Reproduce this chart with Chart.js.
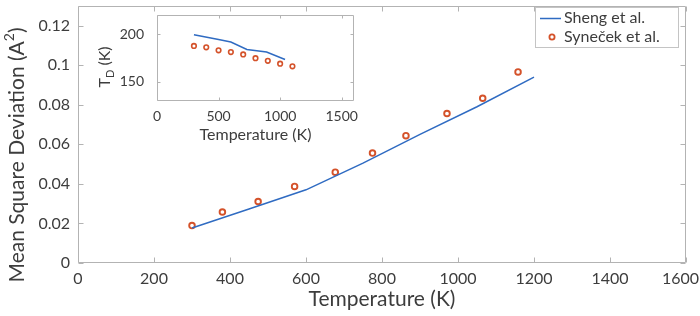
<!DOCTYPE html>
<html>
<head>
<meta charset="utf-8">
<script src="https://cdn.jsdelivr.net/npm/chart.js@4.4.1/dist/chart.umd.min.js"></script>
<style>
  body { margin: 0; background: #fff; overflow: hidden; }
  #wrap { position: relative; width: 700px; height: 316px; }
  #mainChart { position: absolute; left: 0; top: 0; }
  #insetChart { position: absolute; left: 85px; top: 5px; }
</style>
</head>
<body>
<div id="wrap">
  <canvas id="mainChart" width="700" height="316"></canvas>
  <canvas id="insetChart" width="279" height="140"></canvas>
</div>
<script>
// main plot data
const mainTemps = [300, 380, 474, 570, 677, 775, 863, 971, 1065, 1158];
const mainMsd = [0.0189, 0.0258, 0.0311, 0.0387, 0.0459, 0.0556, 0.0644, 0.0756, 0.0833, 0.0966];
const shengTemps = [300, 450, 600, 750, 900, 1050, 1200];
const shengMsd = [0.0177, 0.0273, 0.0370, 0.0505, 0.0650, 0.0790, 0.0940];
const mainXTicks = [0, 200, 400, 600, 800, 1000, 1200, 1400, 1600];
const mainYTicks = [0, 0.02, 0.04, 0.06, 0.08, 0.1, 0.12];

// inset data (Debye temperature)
const insetShengT = [300, 500, 600, 730, 890, 1040];
const insetShengTd = [199.3, 194.3, 191.8, 184, 181.2, 173.4];
const insetSynT = [300, 400, 500, 600, 700, 800, 900, 1000, 1100];
const insetSynTd = [187.6, 186.2, 183, 181.2, 178.7, 174.8, 172, 169.1, 166.3];
const insetXTicks = [0, 500, 1000, 1500];
const insetYTicks = [150, 200];

const BLUE = '#2f6bc2';
const ORANGE = '#d4522a';
const AXIS_GRAY = '#b3b3b3';
const TEXT = '#3d3d3d';
const FONT = 'Lato';

const toPoints = (xs, ys) => xs.map((x, i) => ({ x: x, y: ys[i] }));

// draws text with a sub/superscript piece, rotated for a y-axis title
function drawRotatedLabel(ctx, cx, cy, parts) {
  ctx.save();
  ctx.translate(cx, cy);
  ctx.rotate(-Math.PI / 2);
  ctx.fillStyle = TEXT;
  ctx.textBaseline = 'middle';
  ctx.textAlign = 'left';
  let total = 0;
  parts.forEach(p => {
    ctx.font = p.size + 'px ' + FONT;
    total += ctx.measureText(p.text).width;
  });
  let x = -total / 2;
  parts.forEach(p => {
    ctx.font = p.size + 'px ' + FONT;
    ctx.fillText(p.text, x, p.dy || 0);
    x += ctx.measureText(p.text).width;
  });
  ctx.restore();
}

const boxTicks = {
  id: 'boxTicks',
  beforeDraw(chart, args, opts) {
    if (!opts.fill) return;
    const { ctx, chartArea: a } = chart;
    ctx.save();
    ctx.fillStyle = '#fff';
    ctx.fillRect(a.left, a.top, a.right - a.left, a.bottom - a.top);
    ctx.restore();
  },
  afterDatasetsDraw(chart, args, opts) {
    const { ctx, chartArea: a, scales } = chart;
    const len = opts.len || 5;
    ctx.save();
    ctx.strokeStyle = AXIS_GRAY;
    ctx.lineWidth = 1;
    const L = Math.round(a.left) + 0.5, R = Math.round(a.right) - 0.5;
    const T = Math.round(a.top) + 0.5, B = Math.round(a.bottom) - 0.5;
    ctx.beginPath();
    ctx.rect(L, T, R - L, B - T);
    scales.x.ticks.forEach(t => {
      const px = Math.round(scales.x.getPixelForValue(t.value)) + 0.5;
      ctx.moveTo(px, B); ctx.lineTo(px, B - len);
      ctx.moveTo(px, T); ctx.lineTo(px, T + len);
    });
    scales.y.ticks.forEach(t => {
      const py = Math.round(scales.y.getPixelForValue(t.value)) + 0.5;
      ctx.moveTo(L, py); ctx.lineTo(L + len, py);
      ctx.moveTo(R, py); ctx.lineTo(R - len, py);
    });
    ctx.stroke();
    ctx.restore();
  },
  afterDraw(chart, args, opts) {
    if (opts.yTitle) opts.yTitle(chart.ctx);
    if (opts.legend) opts.legend(chart.ctx);
    if (opts.lastLabel) opts.lastLabel(chart);
  }
};

function fixedScale(size, ticksList) {
  return {
    afterBuildTicks: s => { s.ticks = ticksList.map(v => ({ value: v })); },
    afterFit: s => {
      if (s.isHorizontal()) s.height = size; else s.width = size;
      s.paddingLeft = 0; s.paddingRight = 0; s.paddingTop = 0; s.paddingBottom = 0;
    }
  };
}

function drawLegend(ctx) {
  ctx.save();
  ctx.fillStyle = '#fff';
  ctx.fillRect(535.5, 7.5, 143, 40);
  ctx.strokeStyle = '#c4c4c4';
  ctx.lineWidth = 1;
  ctx.strokeRect(535.5, 7.5, 143, 40);
  ctx.strokeStyle = BLUE;
  ctx.lineWidth = 1.5;
  ctx.beginPath();
  ctx.moveTo(540, 18.5); ctx.lineTo(561, 18.5);
  ctx.stroke();
  ctx.strokeStyle = ORANGE;
  ctx.lineWidth = 1.8;
  ctx.beginPath();
  ctx.arc(552, 37, 2.6, 0, Math.PI * 2);
  ctx.stroke();
  ctx.fillStyle = TEXT;
  ctx.font = '16px ' + FONT;
  ctx.textBaseline = 'middle';
  ctx.fillText('Sheng et al.', 564, 18);
  ctx.fillText('Syneček et al.', 564, 37);
  ctx.restore();
}

// the last x label would run off the canvas edge, so it is drawn here, kept inside
function drawLastXLabel(chart) {
  const { ctx, scales: { x }, chartArea } = chart;
  const v = mainXTicks[mainXTicks.length - 1];
  ctx.save();
  ctx.font = '16px ' + FONT;
  ctx.fillStyle = TEXT;
  ctx.textBaseline = 'middle';
  ctx.textAlign = 'right';
  const w = ctx.measureText(String(v)).width;
  const right = Math.min(x.getPixelForValue(v) + w / 2, 699);
  ctx.fillText(String(v), right, chartArea.bottom + 6 + 9.6);
  ctx.restore();
}

new Chart(document.getElementById('mainChart'), {
  type: 'scatter',
  data: {
    datasets: [{
      type: 'line',
      label: 'Sheng et al.',
      data: toPoints(shengTemps, shengMsd),
      borderColor: BLUE,
      borderWidth: 1.5,
      pointRadius: 0,
      fill: false,
      tension: 0
    }, {
      type: 'scatter',
      label: 'Syneček et al.',
      data: toPoints(mainTemps, mainMsd),
      pointRadius: 2.8,
      borderWidth: 1.9,
      borderColor: ORANGE,
      backgroundColor: 'rgba(0,0,0,0)'
    }]
  },
  options: {
    responsive: false,
    animation: false,
    layout: { padding: { top: 1, right: 14, left: 0, bottom: 0 } },
    plugins: {
      legend: { display: false },
      tooltip: { enabled: false },
      boxTicks: {
        len: 5,
        yTitle: ctx => drawRotatedLabel(ctx, 17, 155, [
          { text: 'Mean Square Deviation (A', size: 21 },
          { text: '2', size: 14, dy: -8 },
          { text: ')', size: 21 }
        ]),
        legend: drawLegend,
        lastLabel: drawLastXLabel
      }
    },
    scales: {
      x: Object.assign({
        type: 'linear', min: 0, max: 1600,
        grid: { display: false, drawTicks: false },
        border: { display: false },
        ticks: { color: TEXT, font: { family: FONT, size: 16 }, padding: 6, maxRotation: 0,
          callback: v => (v === mainXTicks[mainXTicks.length - 1] ? '' : String(v)) },
        title: { display: true, text: 'Temperature (K)', color: TEXT,
          font: { family: FONT, size: 21 }, padding: { top: 0, bottom: 4 } }
      }, fixedScale(53, mainXTicks)),
      y: Object.assign({
        type: 'linear', min: 0, max: 0.13,
        grid: { display: false, drawTicks: false },
        border: { display: false },
        ticks: { color: TEXT, font: { family: FONT, size: 16 }, padding: 8,
          callback: v => String(v) }
      }, fixedScale(78, mainYTicks))
    }
  },
  plugins: [boxTicks]
});

new Chart(document.getElementById('insetChart'), {
  type: 'scatter',
  data: {
    datasets: [{
      type: 'line',
      label: 'Sheng et al.',
      data: toPoints(insetShengT, insetShengTd),
      borderColor: BLUE,
      borderWidth: 1.5,
      pointRadius: 0,
      fill: false,
      tension: 0
    }, {
      type: 'scatter',
      label: 'Syneček et al.',
      data: toPoints(insetSynT, insetSynTd),
      pointRadius: 2.3,
      borderWidth: 1.6,
      borderColor: ORANGE,
      backgroundColor: 'rgba(0,0,0,0)'
    }]
  },
  options: {
    responsive: false,
    animation: false,
    layout: { padding: { top: 10, right: 10, left: 0, bottom: 0 } },
    plugins: {
      legend: { display: false },
      tooltip: { enabled: false },
      boxTicks: {
        len: 3,
        fill: true,
        yTitle: ctx => drawRotatedLabel(ctx, 20, 62, [
          { text: 'T', size: 16 },
          { text: 'D', size: 11, dy: 5 },
          { text: ' (K)', size: 16 }
        ])
      }
    },
    scales: {
      x: Object.assign({
        type: 'linear', min: 0, max: 1600,
        grid: { display: false, drawTicks: false },
        border: { display: false },
        ticks: { color: TEXT, font: { family: FONT, size: 14 }, padding: 7, maxRotation: 0,
          callback: v => String(v) },
        title: { display: true, text: 'Temperature (K)', color: TEXT,
          font: { family: FONT, size: 16 }, padding: { top: 0, bottom: 1 } }
      }, fixedScale(44, insetXTicks)),
      y: Object.assign({
        type: 'linear', min: 130, max: 220,
        grid: { display: false, drawTicks: false },
        border: { display: false },
        ticks: { color: TEXT, font: { family: FONT, size: 14 }, padding: 13,
          callback: v => String(v) }
      }, fixedScale(72, insetYTicks))
    }
  },
  plugins: [boxTicks]
});
</script>
</body>
</html>
